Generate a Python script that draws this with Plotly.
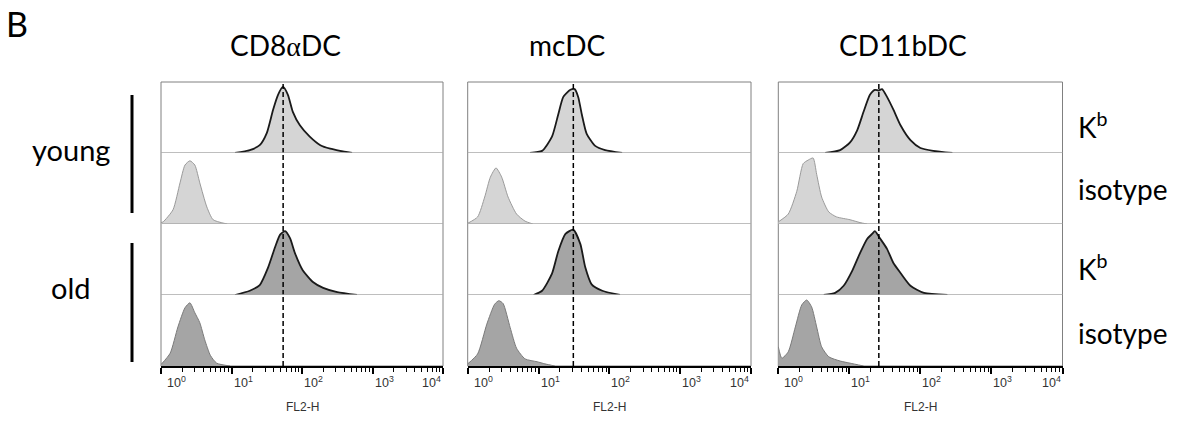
import numpy as np
import plotly.graph_objects as go

# ---------------- data ----------------
panel_titles = ["CD8<span style=\"font-family:'Liberation Serif'\">α</span>DC", "mcDC", "CD11bDC"]
group_labels = ["young", "old"]
row_labels = ["K<sup>b</sup>", "isotype", "K<sup>b</sup>", "isotype"]
axis_label = "FL2-H"
tick_exponents = [0, 1, 2, 3, 4]
dashed_mfi = [54, 31, 26]          # FL2-H value of dashed reference line per panel

# histogram outlines: log10(FL2-H) positions and relative counts (fraction of row height)
cd8_young_kb_log = [1.05, 1.26, 1.40, 1.50, 1.59, 1.66, 1.73, 1.80, 1.87, 1.97, 2.11, 2.26, 2.40, 2.54, 2.71]
cd8_young_kb_h = [0, .04, .11, .28, .61, .82, .93, .82, .58, .39, .23, .11, .06, .03, 0]
cd8_young_iso_log = [0.0, 0.03, 0.17, 0.27, 0.34, 0.41, 0.48, 0.55, 0.65, 0.74, 0.94]
cd8_young_iso_h = [.02, .03, .20, .58, .83, .89, .83, .58, .24, .06, 0]
cd8_old_kb_log = [1.05, 1.26, 1.40, 1.52, 1.62, 1.69, 1.76, 1.83, 1.90, 2.01, 2.16, 2.30, 2.50, 2.78]
cd8_old_kb_h = [0, .06, .14, .39, .68, .85, .90, .80, .59, .35, .18, .10, .04, 0]
cd8_old_iso_log = [0.0, 0.13, 0.24, 0.34, 0.41, 0.48, 0.55, 0.62, 0.70, 0.79, 0.98]
cd8_old_iso_h = [.02, .18, .55, .82, .89, .75, .61, .37, .15, .04, 0]

mc_young_kb_log = [0.88, 1.05, 1.19, 1.28, 1.35, 1.45, 1.51, 1.56, 1.61, 1.68, 1.80, 1.94, 2.18]
mc_young_kb_h = [0, .03, .23, .55, .79, .89, .90, .79, .55, .27, .10, .04, 0]
mc_young_iso_log = [0.0, 0.14, 0.24, 0.32, 0.40, 0.48, 0.57, 0.69, 0.81, 0.92]
mc_young_iso_h = [.01, .10, .38, .66, .79, .66, .38, .14, .04, 0]
mc_old_kb_log = [0.93, 1.05, 1.19, 1.28, 1.38, 1.49, 1.59, 1.66, 1.75, 1.90, 2.15]
mc_old_kb_h = [0, .06, .30, .62, .86, .92, .72, .39, .15, .06, 0]
mc_old_iso_log = [0.0, 0.14, 0.27, 0.38, 0.44, 0.50, 0.60, 0.69, 0.81, 0.98, 1.09, 1.23]
mc_old_iso_h = [.03, .17, .59, .87, .92, .88, .54, .25, .10, .06, .03, 0]

cd11b_young_kb_log = [0.66, 0.87, 1.01, 1.11, 1.20, 1.29, 1.36, 1.41, 1.46, 1.53, 1.62, 1.72, 1.86, 2.00, 2.18, 2.45]
cd11b_young_kb_h = [0, .04, .15, .32, .58, .82, .89, .88, .90, .79, .61, .39, .18, .07, .03, 0]
cd11b_young_iso_log = [0.0, 0.14, 0.26, 0.35, 0.42, 0.49, 0.54, 0.61, 0.71, 0.82, 1.01, 1.15, 1.25]
cd11b_young_iso_h = [.03, .14, .46, .85, .90, .93, .70, .38, .17, .10, .06, .02, 0]
cd11b_old_kb_log = [0.64, 0.80, 0.92, 1.04, 1.15, 1.25, 1.32, 1.36, 1.43, 1.53, 1.62, 1.72, 1.86, 2.05, 2.38]
cd11b_old_kb_h = [0, .03, .13, .34, .59, .79, .86, .90, .80, .65, .45, .31, .13, .03, 0]
cd11b_old_iso_log = [0.0, 0.05, 0.14, 0.24, 0.33, 0.40, 0.47, 0.54, 0.61, 0.71, 0.87, 1.01, 1.20]
cd11b_old_iso_h = [.27, .11, .20, .55, .86, .93, .83, .55, .27, .13, .07, .04, 0]

panels = [
    [(cd8_young_kb_log, cd8_young_kb_h), (cd8_young_iso_log, cd8_young_iso_h),
     (cd8_old_kb_log, cd8_old_kb_h), (cd8_old_iso_log, cd8_old_iso_h)],
    [(mc_young_kb_log, mc_young_kb_h), (mc_young_iso_log, mc_young_iso_h),
     (mc_old_kb_log, mc_old_kb_h), (mc_old_iso_log, mc_old_iso_h)],
    [(cd11b_young_kb_log, cd11b_young_kb_h), (cd11b_young_iso_log, cd11b_young_iso_h),
     (cd11b_old_kb_log, cd11b_old_kb_h), (cd11b_old_iso_log, cd11b_old_iso_h)],
]

# ---------------- layout geometry (page pixels) ----------------
OFF = 8                      # default page margin around the plot
W, H = 1182 - 2 * OFF, 423 - 2 * OFF
def px(x):
    return (x - OFF) / W
def py(y):
    return 1 - (y - OFF) / H

panel_x_px = [(161, 443), (467.7, 751), (778.3, 1062.5)]
row_edges_px = [82, 153, 224, 295, 366]
title_x_px = [285, 567, 903]

fill_colors = ["#d5d5d5", "#d5d5d5", "#a5a5a5", "#a5a5a5"]
line_colors = ["#1a1a1a", "#9a9a9a", "#1a1a1a", "#7a7a7a"]
line_widths = [1.8, 1.0, 1.8, 1.0]

LABEL_FONT = "Lato, 'Noto Sans', sans-serif"
TICK_FONT = "'Liberation Sans', Arial, sans-serif"

fig = go.Figure()
layout = dict(
    width=W, height=H, margin=dict(l=0, r=0, t=0, b=0),
    paper_bgcolor="white", plot_bgcolor="white", showlegend=False,
)
shapes = []
annotations = []

minor_vals = [m * 10 ** d for d in range(4) for m in range(2, 10)]

for p in range(3):
    x0p, x1p = panel_x_px[p]
    for r in range(4):
        k = p * 4 + r + 1
        xa = "xaxis" if k == 1 else f"xaxis{k}"
        ya = "yaxis" if k == 1 else f"yaxis{k}"
        xr = "x" if k == 1 else f"x{k}"
        yr = "y" if k == 1 else f"y{k}"
        bottom = r == 3
        xdict = dict(
            type="log", range=[0, 4], domain=[px(x0p), px(x1p)], anchor=yr,
            showgrid=False, zeroline=False, showticklabels=False, fixedrange=True,
        )
        if bottom:
            xdict.update(
                showline=True, linecolor="black", linewidth=1.5,
                tickmode="array", tickvals=[10 ** e for e in tick_exponents],
                ticks="outside", ticklen=6, tickwidth=2, tickcolor="black",
                minor=dict(tickmode="array", tickvals=minor_vals, ticks="outside",
                           ticklen=4, tickwidth=1, tickcolor="black"),
            )
        else:
            xdict.update(showline=False, ticks="")
        layout[xa] = xdict
        layout[ya] = dict(
            range=[0, 1.0], domain=[py(row_edges_px[r + 1]), py(row_edges_px[r])],
            anchor=xr, visible=False, fixedrange=True,
        )

        lx, hh = panels[p][r]
        fig.add_trace(go.Scatter(
            x=[10 ** v for v in lx], y=hh, xaxis=xr, yaxis=yr, mode="lines",
            line=dict(color=line_colors[r], width=line_widths[r], shape="spline", smoothing=0.6),
            fill="tozeroy", fillcolor=fill_colors[r], hoverinfo="skip",
        ))
        if not bottom:
            shapes.append(dict(
                type="line", xref=f"{xr} domain", x0=0, x1=1, yref=yr, y0=0, y1=0,
                line=dict(color="#a9a9a9", width=1.5), layer="above",
            ))

    # dashed reference line through all four rows
    for r in range(4):
        k = p * 4 + r + 1
        xr = "x" if k == 1 else f"x{k}"
        yr = "y" if k == 1 else f"y{k}"
        fig.add_trace(go.Scatter(
            x=[dashed_mfi[p], dashed_mfi[p]], y=[0, 1], xaxis=xr, yaxis=yr, mode="lines",
            line=dict(color="black", width=1.5, dash="5px,3px"), hoverinfo="skip",
        ))

    # panel border
    shapes.append(dict(
        type="rect", xref="paper", yref="paper",
        x0=px(x0p), x1=px(x1p), y0=py(row_edges_px[-1]), y1=py(row_edges_px[0]),
        line=dict(color="#808080", width=1), fillcolor="rgba(0,0,0,0)", layer="below",
    ))

    # panel title
    annotations.append(dict(
        text=panel_titles[p], x=px(title_x_px[p]), y=py(45), xref="paper", yref="paper",
        showarrow=False, xanchor="center", yanchor="middle",
        font=dict(family=LABEL_FONT, size=28, color="black"),
    ))

    # tick labels of the bottom axis
    kb = p * 4 + 4
    xrb = f"x{kb}"
    for e in tick_exponents:
        last = e == tick_exponents[-1]
        annotations.append(dict(
            text=f"10<sup>{e}</sup>",
            x=e, xref=xrb, y=py(382), yref="paper",
            showarrow=False, xanchor="right" if last else "left", yanchor="middle",
            xshift=(4 if e == tick_exponents[0] else 0),
            font=dict(family=TICK_FONT, size=12.5, color="#333333"),
        ))
    annotations.append(dict(
        text=axis_label, x=px((x0p + x1p) / 2), y=py(407), xref="paper", yref="paper",
        showarrow=False, xanchor="center", yanchor="middle",
        font=dict(family=TICK_FONT, size=12, color="#333333"),
    ))

# panel letter
annotations.append(dict(
    text="B", x=px(17), y=py(23), xref="paper", yref="paper", showarrow=False,
    xanchor="center", yanchor="middle", font=dict(family=LABEL_FONT, size=34, color="black"),
))

# group labels and bars
group_y_px = [149, 287]
group_bar_px = [(95, 213), (243, 362)]
for g in range(2):
    annotations.append(dict(
        text=group_labels[g], x=px(71), y=py(group_y_px[g]), xref="paper", yref="paper",
        showarrow=False, xanchor="center", yanchor="middle",
        font=dict(family=LABEL_FONT, size=29, color="black"),
    ))
    shapes.append(dict(
        type="line", xref="paper", yref="paper", x0=px(132), x1=px(132),
        y0=py(group_bar_px[g][0]), y1=py(group_bar_px[g][1]),
        line=dict(color="black", width=3),
    ))

# row labels on the right
row_label_y_px = [125, 189, 267, 333]
for r in range(4):
    annotations.append(dict(
        text=row_labels[r], x=px(1076), y=py(row_label_y_px[r]), xref="paper", yref="paper",
        showarrow=False, xanchor="left", yanchor="middle",
        font=dict(family=LABEL_FONT, size=28, color="black"),
    ))

layout["shapes"] = shapes
layout["annotations"] = annotations
fig.update_layout(**layout)
fig.write_html("out.html")
